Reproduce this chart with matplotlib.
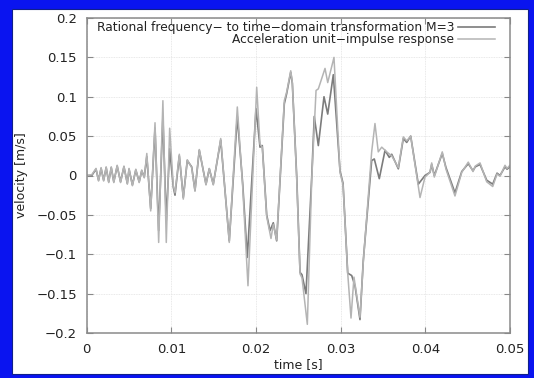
import matplotlib
matplotlib.use('Agg')
import matplotlib.pyplot as plt
from matplotlib.patches import Rectangle

# velocity traces, time in seconds, velocity in m/s
t_rational = [0.0, 0.0006, 0.0011, 0.0014, 0.0017, 0.0020, 0.0023, 0.0026, 0.0029, 0.0032,
              0.0036, 0.0040, 0.0044, 0.0048, 0.0050, 0.0054, 0.0058, 0.0062, 0.0065, 0.0068,
              0.0071, 0.00756, 0.00807, 0.0085, 0.0090, 0.0094, 0.0098, 0.01023, 0.01043, 0.01094,
              0.01141, 0.01188, 0.0124, 0.01279, 0.0133, 0.01409, 0.01448, 0.01495, 0.01583, 0.01684,
              0.01779, 0.01843, 0.01897, 0.0200, 0.02047, 0.02074, 0.02126, 0.02165, 0.02204, 0.02244,
              0.02334, 0.02362, 0.0241, 0.02429, 0.02481, 0.0252, 0.02543, 0.0259, 0.02658, 0.02688,
              0.02736, 0.02803, 0.02847, 0.02913, 0.02992, 0.03028, 0.03083, 0.0313, 0.03169, 0.03228,
              0.03267, 0.03366, 0.03397, 0.03456, 0.03524, 0.03574, 0.03603, 0.03681, 0.0374, 0.0378,
              0.03827, 0.03917, 0.03996, 0.04055, 0.04075, 0.04106, 0.042, 0.04244, 0.0435, 0.0443,
              0.04507, 0.04563, 0.0459, 0.04646, 0.04725, 0.04796, 0.04847, 0.04882, 0.04941, 0.04965,
              0.05]
v_rational = [0.0, 0.0, 0.008, -0.006, 0.009, -0.006, 0.010, -0.008, 0.010, -0.008,
              0.012, -0.008, 0.011, -0.010, 0.008, -0.012, 0.007, -0.008, 0.006, -0.002,
              0.024, -0.042, 0.060, -0.070, 0.074, -0.057, 0.034, -0.015, -0.025, 0.025,
              -0.028, 0.019, 0.011, -0.019, 0.032, -0.011, 0.0085, -0.011, 0.045, -0.083,
              0.075, -0.011, -0.104, 0.085, 0.036, 0.038, -0.050, -0.070, -0.060, -0.083,
              0.091, 0.104, 0.131, 0.117, -0.002, -0.123, -0.126, -0.150, -0.002, 0.075,
              0.038, 0.100, 0.078, 0.128, 0.006, -0.010, -0.124, -0.127, -0.140, -0.183,
              -0.108, 0.019, 0.021, -0.004, 0.032, 0.023, 0.027, 0.0085, 0.047, 0.042,
              0.050, -0.011, 0.0, 0.004, 0.014, 0.0, 0.028, 0.010, -0.022, 0.005,
              0.015, 0.006, 0.011, 0.014, -0.006, -0.011, 0.003, 0.0, 0.011, 0.008,
              0.011]

t_impulse = [0.0, 0.0006, 0.0011, 0.0014, 0.0017, 0.0020, 0.0023, 0.0026, 0.0029, 0.0032,
             0.0036, 0.0040, 0.0044, 0.0048, 0.0050, 0.0054, 0.0058, 0.0062, 0.0065, 0.0068,
             0.0071, 0.00756, 0.00807, 0.0085, 0.0090, 0.0094, 0.0098, 0.01023, 0.01043, 0.01094,
             0.01141, 0.01188, 0.0124, 0.01279, 0.0133, 0.01409, 0.01448, 0.01495, 0.01583, 0.01684,
             0.01779, 0.01843, 0.01905, 0.02008, 0.02047, 0.02074, 0.02126, 0.02177, 0.02204, 0.02244,
             0.02334, 0.02362, 0.0241, 0.02429, 0.02481, 0.0252, 0.02543, 0.02606, 0.02658, 0.02709,
             0.02736, 0.02815, 0.02847, 0.02921, 0.02992, 0.03028, 0.03083, 0.03122, 0.03157, 0.03228,
             0.03267, 0.03366, 0.03405, 0.03444, 0.03485, 0.03544, 0.03603, 0.03681, 0.0374, 0.0378,
             0.03827, 0.03937, 0.03996, 0.04055, 0.04075, 0.04106, 0.042, 0.04244, 0.0435, 0.0443,
             0.04507, 0.04563, 0.0459, 0.04646, 0.04725, 0.04796, 0.04847, 0.04882, 0.04941, 0.04965,
             0.05]
v_impulse = [0.0, 0.001, 0.009, -0.007, 0.010, -0.007, 0.011, -0.009, 0.011, -0.009,
             0.013, -0.009, 0.012, -0.011, 0.009, -0.013, 0.008, -0.009, 0.007, -0.003,
             0.028, -0.045, 0.067, -0.085, 0.095, -0.085, 0.060, -0.013, -0.022, 0.027,
             -0.030, 0.020, 0.010, -0.020, 0.033, -0.012, 0.009, -0.012, 0.047, -0.085,
             0.087, -0.015, -0.140, 0.112, 0.040, 0.036, -0.052, -0.080, -0.062, -0.082,
             0.095, 0.106, 0.133, 0.118, -0.005, -0.125, -0.130, -0.189, -0.005, 0.108,
             0.110, 0.136, 0.118, 0.150, 0.004, -0.012, -0.124, -0.181, -0.129, -0.180,
             -0.110, 0.030, 0.066, 0.030, 0.036, 0.030, 0.025, 0.010, 0.049, 0.044,
             0.050, -0.028, -0.002, 0.004, 0.016, -0.002, 0.030, 0.008, -0.026, 0.004,
             0.017, 0.005, 0.012, 0.016, -0.008, -0.014, 0.002, -0.001, 0.013, 0.009,
             0.013]

x_ticks = [0.0, 0.01, 0.02, 0.03, 0.04, 0.05]
x_tick_labels = ['0', '0.01', '0.02', '0.03', '0.04', '0.05']
y_ticks = [-0.2, -0.15, -0.1, -0.05, 0.0, 0.05, 0.1, 0.15, 0.2]
y_tick_labels = ['\u22120.2', '\u22120.15', '\u22120.1', '\u22120.05', '0', '0.05', '0.1', '0.15', '0.2']

plt.rcParams['font.family'] = ['DejaVu Sans']
plt.rcParams['font.size'] = 9

fig = plt.figure(figsize=(5.34, 3.78), dpi=100)
fig.patch.set_facecolor('white')
# blue frame round the white page
fig.patches.append(Rectangle((0, 0), 1, 1, transform=fig.transFigure,
                             facecolor='#0a14f0', edgecolor='none', zorder=-10))
fig.patches.append(Rectangle((12 / 534, 4 / 378), (528 - 12) / 534, (369 - 4) / 378,
                             transform=fig.transFigure, facecolor='white',
                             edgecolor='#10208a', linewidth=0.8, zorder=-9))

ax = fig.add_axes([86.7 / 534, 45 / 378, (510 - 86.7) / 534, (333 - 18) / 378])
ax.set_facecolor('white')

ax.plot(t_rational, v_rational, color='#7c7c7c', linewidth=1.2,
        label='Rational frequency\u2212 to time\u2212domain transformation M=3')
ax.plot(t_impulse, v_impulse, color='#b4b4b4', linewidth=1.1,
        label='Acceleration unit\u2212impulse response')

ax.set_xlim(0, 0.05)
ax.set_ylim(-0.2, 0.2)
ax.set_xticks(x_ticks)
ax.set_xticklabels(x_tick_labels)
ax.set_yticks(y_ticks)
ax.set_yticklabels(y_tick_labels)
ax.tick_params(direction='in', length=4, width=0.8, color='#888888',
               top=True, right=True, labelcolor='#222222', labelsize=9.5)
ax.tick_params(axis='y', pad=7)
ax.tick_params(axis='x', pad=7)
ax.grid(True, color='#e2e2e2', linewidth=0.6, linestyle=(0, (1, 1)))
for s in ax.spines.values():
    s.set_color('#8a8a8a')
    s.set_linewidth(1.1)

ax.set_xlabel('time [s]', color='#222222', labelpad=2)
ax.set_ylabel('velocity [m/s]', color='#222222', labelpad=6)

leg = ax.legend(loc='upper right', frameon=False, markerfirst=False,
                handlelength=3.0, handletextpad=0.3, labelspacing=-0.12,
                borderaxespad=0.0, fontsize=8.8, bbox_to_anchor=(0.975, 1.005))
for txt in leg.get_texts():
    txt.set_color('#222222')

fig.savefig('out.png', dpi=100)
